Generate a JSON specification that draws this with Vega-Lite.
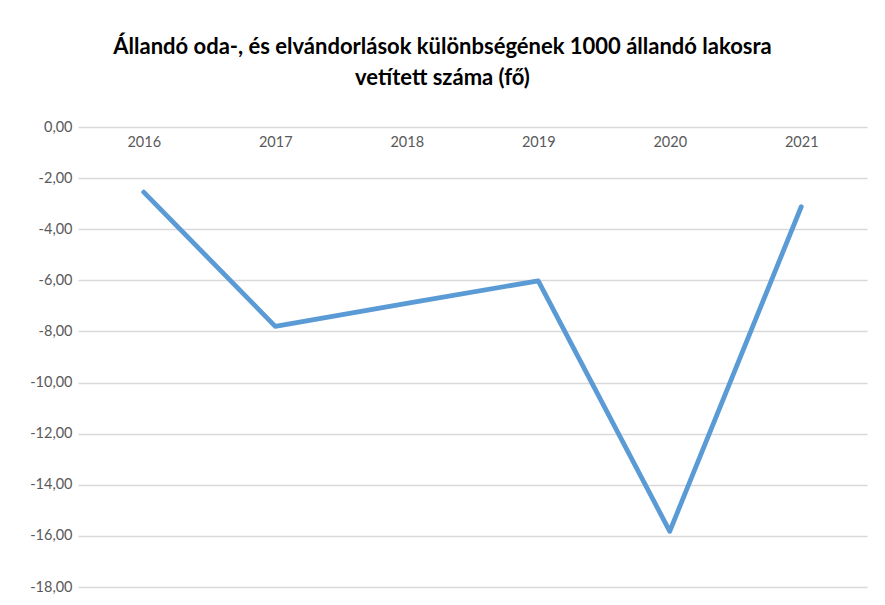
{
  "$schema": "https://vega.github.io/schema/vega-lite/v6.json",
  "width": 789,
  "height": 460,
  "autosize": "none",
  "padding": {"left": 78, "top": 127, "right": 18, "bottom": 18},
  "background": "white",
  "config": {
    "locale": {"number": {"decimal": ",", "thousands": " ", "grouping": [3], "currency": ["", " Ft"], "minus": "-"}},
    "view": {"stroke": null},
    "font": "Lato"
  },
  "title": {
    "text": ["Állandó oda-, és elvándorlások különbségének 1000 állandó lakosra", "vetített száma (fő)"],
    "font": "Lato",
    "fontSize": 22,
    "fontWeight": "bold",
    "color": "#000000",
    "anchor": "middle",
    "dx": -30,
    "lineHeight": 31,
    "offset": 29
  },
  "data": {
    "values": [
      {"ev": "2016", "ertek": -2.55},
      {"ev": "2017", "ertek": -7.8},
      {"ev": "2018", "ertek": -6.9},
      {"ev": "2019", "ertek": -6.02},
      {"ev": "2020", "ertek": -15.82},
      {"ev": "2021", "ertek": -3.12}
    ]
  },
  "mark": {"type": "line", "color": "#5B9BD5", "strokeWidth": 4.8, "strokeCap": "round", "strokeJoin": "round"},
  "encoding": {
    "x": {
      "field": "ev",
      "type": "ordinal",
      "scale": {"type": "point", "padding": 0.5},
      "axis": {
        "orient": "top",
        "title": null,
        "domain": false,
        "ticks": false,
        "grid": false,
        "labelAngle": 0,
        "labelBaseline": "middle",
        "labelPadding": -15,
        "labelFont": "Lato",
        "labelFontSize": 14.5,
        "labelColor": "#595959"
      }
    },
    "y": {
      "field": "ertek",
      "type": "quantitative",
      "scale": {"domain": [-18, 0], "nice": false, "zero": false},
      "axis": {
        "title": null,
        "values": [0, -2, -4, -6, -8, -10, -12, -14, -16, -18],
        "format": ".2f",
        "domain": false,
        "ticks": false,
        "labelPadding": 6,
        "labelFont": "Lato",
        "labelFontSize": 14.5,
        "labelColor": "#595959",
        "gridColor": "#D9D9D9",
        "gridWidth": 1.5
      }
    }
  }
}
